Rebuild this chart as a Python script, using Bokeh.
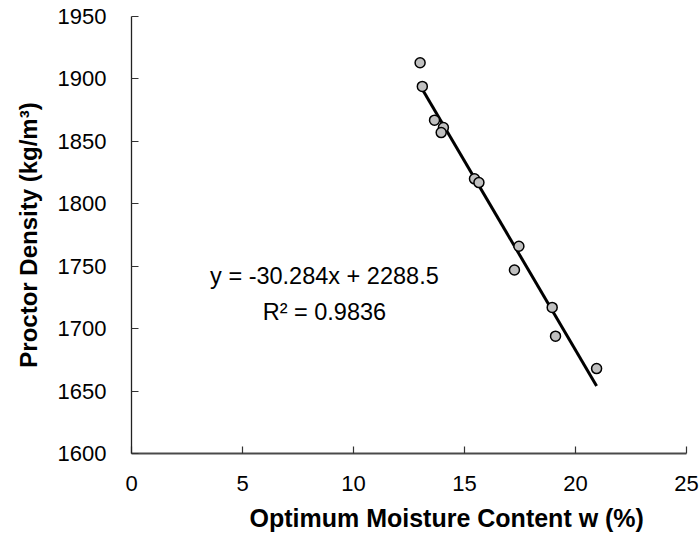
from bokeh.plotting import figure
from bokeh.models import Range1d, Label, Title, FixedTicker, ColumnDataSource
from bokeh.embed import file_html
from bokeh.resources import INLINE

# ---- data ----
moisture = [13.0, 13.1, 13.65, 14.05, 13.95, 15.45, 15.65, 17.45, 17.25, 18.95, 19.1, 20.95]
density = [1913, 1894, 1867, 1861, 1857, 1820, 1817, 1766, 1747, 1717, 1694, 1668]
slope = -30.284
intercept = 2288.5
r_squared = 0.9836
x_ticks = [0, 5, 10, 15, 20, 25]
y_ticks = [1600, 1650, 1700, 1750, 1800, 1850, 1900, 1950]

FONT = "Liberation Sans"

p = figure(width=699, height=548, output_backend="svg", toolbar_location=None,
           x_range=Range1d(0, 25), y_range=Range1d(1600, 1950),
           min_border_left=131, min_border_right=13, min_border_top=16, min_border_bottom=95)
p.background_fill_color = "white"
p.outline_line_color = None
p.xgrid.visible = False
p.ygrid.visible = False

# axes
for ax in (p.xaxis[0], p.yaxis[0]):
    ax.major_tick_in = 7
    ax.major_tick_out = 0
    ax.minor_tick_line_color = None
    ax.major_label_text_font = FONT
    ax.major_label_text_font_size = "22px"
    ax.major_label_text_color = "black"
    ax.major_tick_line_color = "#333333"
    ax.major_tick_line_width = 1.2

p.xaxis.ticker = FixedTicker(ticks=x_ticks)
p.yaxis.ticker = FixedTicker(ticks=y_ticks)
p.xaxis.axis_line_color = "#4a4a4a"
p.xaxis.axis_line_width = 2
p.yaxis.axis_line_color = "#222222"
p.yaxis.axis_line_width = 1.3
p.xaxis.major_label_standoff = 22
p.yaxis.major_label_standoff = 25

p.yaxis.axis_label = "Proctor Density (kg/m\u00b3)"
p.yaxis.axis_label_text_font = FONT
p.yaxis.axis_label_text_font_style = "bold"
p.yaxis.axis_label_text_font_size = "24px"
p.yaxis.axis_label_text_color = "black"
p.yaxis.axis_label_standoff = 13

# regression line over the data range
x0, x1 = min(moisture), max(moisture)
line_src = ColumnDataSource(dict(x=[x0, x1], y=[slope * x0 + intercept, slope * x1 + intercept]))
p.line("x", "y", source=line_src, line_color="black", line_width=3)

# data points
pts = ColumnDataSource(dict(x=moisture, y=density))
p.scatter("x", "y", source=pts, size=10, fill_color="#c0c0c0",
          line_color="black", line_width=1.5)

# equation annotation
eq = Label(x=8.69, y=1741.8, text=f"y = {slope}x + {intercept}",
           text_font=FONT, text_font_size="23.5px", text_align="center",
           text_baseline="middle", text_color="black")
r2 = Label(x=8.69, y=1713.7, text=f"R\u00b2 = {r_squared}",
           text_font=FONT, text_font_size="23.5px", text_align="center",
           text_baseline="middle", text_color="black")
p.add_layout(eq)
p.add_layout(r2)

# x axis title (placed like the reference, right of the frame centre)
xt = Title(text="Optimum Moisture Content w (%)", align="left", offset=118,
           text_font=FONT, text_font_size="25px", text_font_style="bold",
           text_color="black", standoff=17)
p.add_layout(xt, "below")

open("out.html", "w").write(file_html(p, INLINE))
